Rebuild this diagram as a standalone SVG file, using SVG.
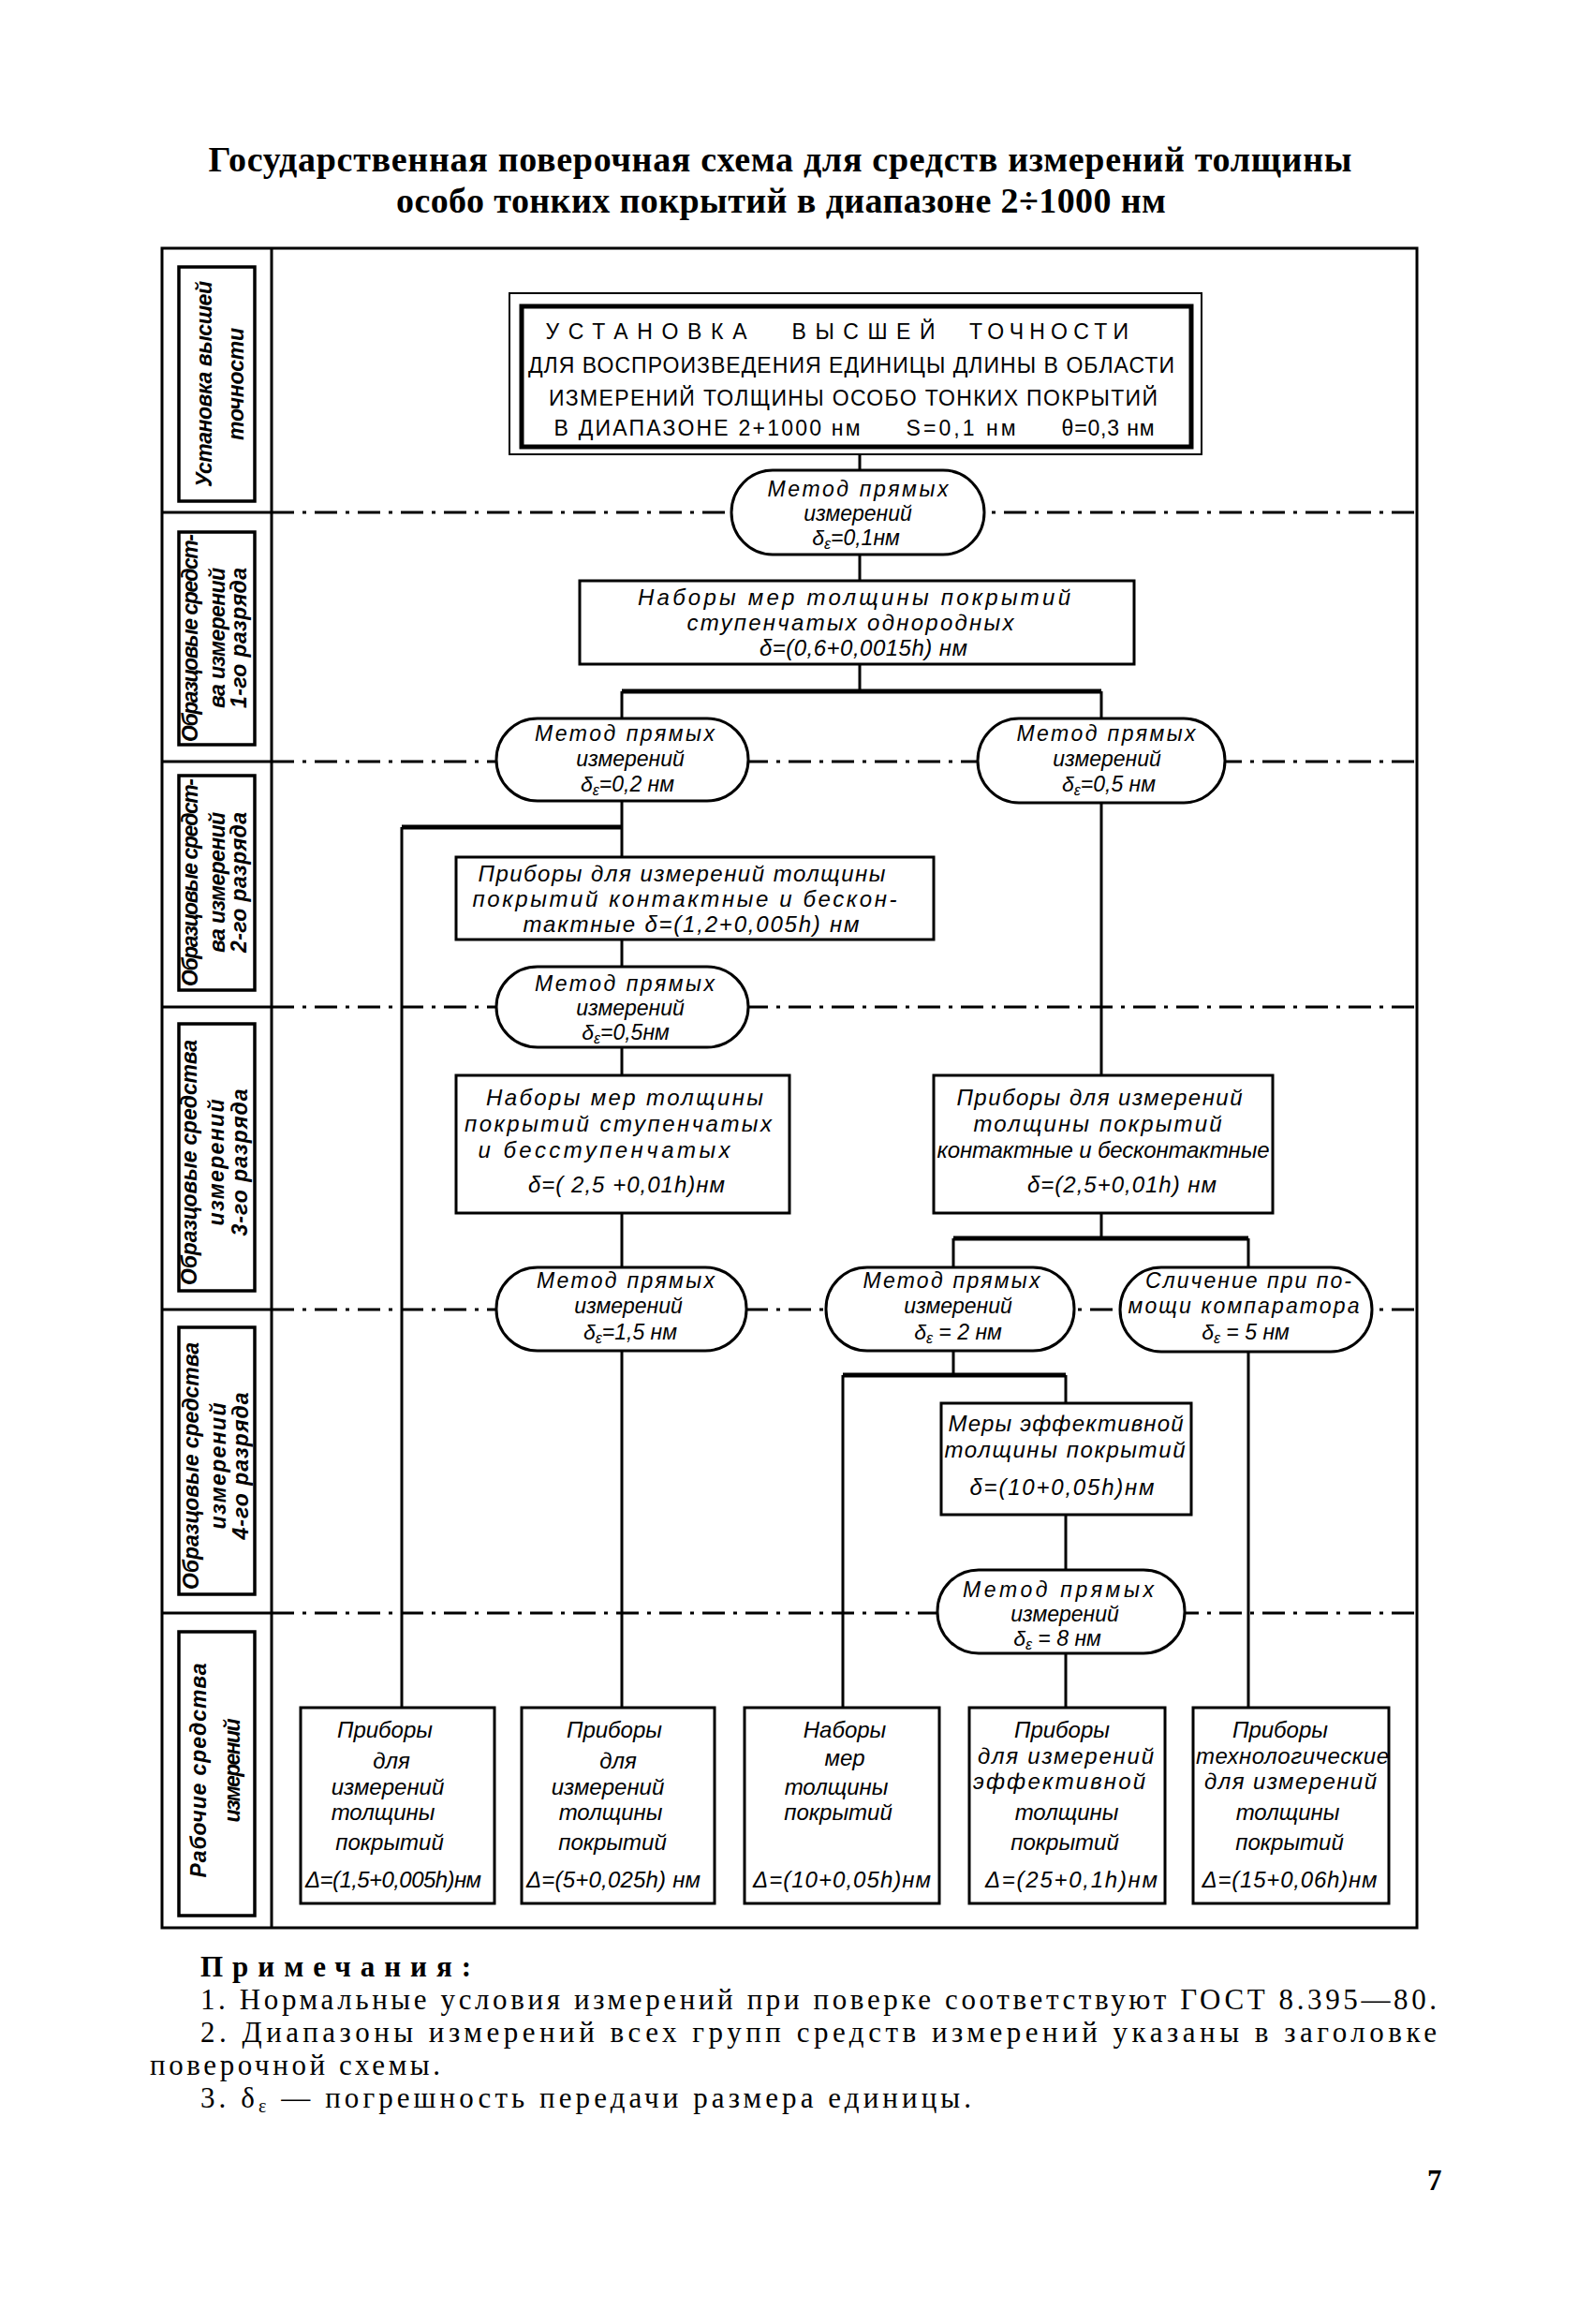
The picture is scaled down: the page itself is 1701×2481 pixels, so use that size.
<svg xmlns="http://www.w3.org/2000/svg" width="1701" height="2481" viewBox="0 0 1701 2481">
<style>
.frame{fill:none;stroke:#000;stroke-width:3}
.box{fill:#fff;stroke:#000;stroke-width:3}
.lab{fill:none;stroke:#000;stroke-width:3.5}
.ell{fill:#fff;stroke:#000;stroke-width:3}
.con{stroke:#000;stroke-width:3;fill:none}
.bar{stroke:#000;stroke-width:5;fill:none}
.dd{stroke:#000;stroke-width:3;stroke-dasharray:24 9 4 9;fill:none}
.t{font-family:"Liberation Sans",Arial,sans-serif;font-style:italic;font-size:24px;text-anchor:middle;fill:#000}
.e{font-family:"Liberation Sans",Arial,sans-serif;font-style:italic;font-size:23px;text-anchor:middle;fill:#000}
.u{font-family:"Liberation Sans",Arial,sans-serif;font-size:23px;text-anchor:middle;fill:#000}
.v{font-family:"Liberation Sans",Arial,sans-serif;font-style:italic;font-weight:bold;font-size:23px;text-anchor:middle;fill:#000}
.title{font-family:"Liberation Serif","Times New Roman",serif;font-weight:bold;font-size:38px;text-anchor:middle;fill:#000}
.note{font-family:"Liberation Serif","Times New Roman",serif;font-size:31px;fill:#000}
.sub{font-size:16px}
</style>
<rect width="1701" height="2481" fill="#fff"/>

<g id="title">
<text class="title" x="833" y="183" textLength="1221" lengthAdjust="spacing">Государственная поверочная схема для средств измерений толщины</text>
<text class="title" x="834" y="227" textLength="822" lengthAdjust="spacing">особо тонких покрытий в диапазоне 2÷1000 нм</text>
</g>

<g id="frame">
<rect class="frame" x="173" y="265" width="1340" height="1793"/>
<line class="frame" x1="290" y1="265" x2="290" y2="2058"/>
<line class="frame" x1="173" y1="547" x2="290" y2="547"/>
<line class="frame" x1="173" y1="813" x2="290" y2="813"/>
<line class="frame" x1="173" y1="1075" x2="290" y2="1075"/>
<line class="frame" x1="173" y1="1398" x2="290" y2="1398"/>
<line class="frame" x1="173" y1="1722" x2="290" y2="1722"/>
<line class="dd" x1="290" y1="547" x2="1513" y2="547"/>
<line class="dd" x1="290" y1="813" x2="1513" y2="813"/>
<line class="dd" x1="290" y1="1075" x2="1513" y2="1075"/>
<line class="dd" x1="290" y1="1398" x2="1513" y2="1398"/>
<line class="dd" x1="290" y1="1722" x2="1513" y2="1722"/>
</g>

<g id="row-labels">
<rect class="lab" x="191" y="285" width="81" height="250"/>
<text class="v" transform="translate(226,410) rotate(-90)" textLength="220" lengthAdjust="spacing">Установка высшей</text>
<text class="v" transform="translate(260,410) rotate(-90)" textLength="120" lengthAdjust="spacing">точности</text>

<rect class="lab" x="191" y="568" width="81" height="227"/>
<text class="v" transform="translate(211,681) rotate(-90)" textLength="222" lengthAdjust="spacing">Образцовые средст-</text>
<text class="v" transform="translate(240,681) rotate(-90)" textLength="150" lengthAdjust="spacing">ва измерений</text>
<text class="v" transform="translate(263,681) rotate(-90)" textLength="150" lengthAdjust="spacing">1-го разряда</text>

<rect class="lab" x="191" y="828" width="81" height="229"/>
<text class="v" transform="translate(211,942) rotate(-90)" textLength="222" lengthAdjust="spacing">Образцовые средст-</text>
<text class="v" transform="translate(240,942) rotate(-90)" textLength="150" lengthAdjust="spacing">ва измерений</text>
<text class="v" transform="translate(263,942) rotate(-90)" textLength="150" lengthAdjust="spacing">2-го разряда</text>

<rect class="lab" x="191" y="1093" width="81" height="285"/>
<text class="v" transform="translate(210,1241) rotate(-90)" textLength="262" lengthAdjust="spacing">Образцовые средства</text>
<text class="v" transform="translate(239,1241) rotate(-90)" textLength="135" lengthAdjust="spacing">измерений</text>
<text class="v" transform="translate(264,1241) rotate(-90)" textLength="157" lengthAdjust="spacing">3-го разряда</text>

<rect class="lab" x="191" y="1417" width="81" height="285"/>
<text class="v" transform="translate(212,1565) rotate(-90)" textLength="264" lengthAdjust="spacing">Образцовые средства</text>
<text class="v" transform="translate(241,1565) rotate(-90)" textLength="135" lengthAdjust="spacing">измерений</text>
<text class="v" transform="translate(265,1565) rotate(-90)" textLength="157" lengthAdjust="spacing">4-го разряда</text>

<rect class="lab" x="191" y="1742" width="81" height="303"/>
<text class="v" transform="translate(220,1890) rotate(-90)" textLength="229" lengthAdjust="spacing">Рабочие средства</text>
<text class="v" transform="translate(256,1890) rotate(-90)" textLength="111" lengthAdjust="spacing">измерений</text>
</g>

<g id="connectors">
<line class="con" x1="918" y1="485" x2="918" y2="502"/>
<line class="con" x1="918" y1="592" x2="918" y2="620"/>
<line class="con" x1="918" y1="709" x2="918" y2="738"/>
<line class="bar" x1="664" y1="738" x2="1176" y2="738"/>
<line class="con" x1="664" y1="738" x2="664" y2="767"/>
<line class="con" x1="1176" y1="738" x2="1176" y2="767"/>
<line class="con" x1="664" y1="855" x2="664" y2="915"/>
<line class="bar" x1="429" y1="883" x2="664" y2="883"/>
<line class="con" x1="429" y1="883" x2="429" y2="1823"/>
<line class="con" x1="664" y1="1003" x2="664" y2="1032"/>
<line class="con" x1="664" y1="1118" x2="664" y2="1148"/>
<line class="con" x1="1176" y1="857" x2="1176" y2="1148"/>
<line class="con" x1="664" y1="1295" x2="664" y2="1353"/>
<line class="con" x1="1176" y1="1295" x2="1176" y2="1322"/>
<line class="bar" x1="1018" y1="1322" x2="1333" y2="1322"/>
<line class="con" x1="1018" y1="1322" x2="1018" y2="1353"/>
<line class="con" x1="1333" y1="1322" x2="1333" y2="1353"/>
<line class="con" x1="664" y1="1442" x2="664" y2="1823"/>
<line class="con" x1="1018" y1="1442" x2="1018" y2="1468"/>
<line class="bar" x1="900" y1="1468" x2="1138" y2="1468"/>
<line class="con" x1="900" y1="1468" x2="900" y2="1823"/>
<line class="con" x1="1138" y1="1468" x2="1138" y2="1498"/>
<line class="con" x1="1138" y1="1617" x2="1138" y2="1676"/>
<line class="con" x1="1138" y1="1765" x2="1138" y2="1823"/>
<line class="con" x1="1333" y1="1443" x2="1333" y2="1823"/>
</g>

<g id="top-standard">
<rect x="544" y="313" width="739" height="172" fill="#fff" stroke="#000" stroke-width="2"/>
<rect x="557" y="327" width="715" height="150" fill="none" stroke="#000" stroke-width="5"/>
<text class="u" x="690" y="362" font-size="24" textLength="215" lengthAdjust="spacing">УСТАНОВКА</text>
<text class="u" x="922" y="362" font-size="24" textLength="153" lengthAdjust="spacing">ВЫСШЕЙ</text>
<text class="u" x="1120" y="362" font-size="24" textLength="170" lengthAdjust="spacing">ТОЧНОСТИ</text>
<text class="u" x="909" y="398" textLength="690" lengthAdjust="spacing">ДЛЯ ВОСПРОИЗВЕДЕНИЯ ЕДИНИЦЫ ДЛИНЫ В ОБЛАСТИ</text>
<text class="u" x="911" y="433" textLength="650" lengthAdjust="spacing">ИЗМЕРЕНИЙ ТОЛЩИНЫ ОСОБО ТОНКИХ ПОКРЫТИЙ</text>
<text class="u" x="755" y="465" textLength="327" lengthAdjust="spacing">В ДИАПАЗОНЕ 2+1000 нм</text>
<text class="u" x="1026" y="465" textLength="117" lengthAdjust="spacing">S=0,1 нм</text>
<text class="u" x="1183" y="465" textLength="99" lengthAdjust="spacing">θ=0,3 нм</text>
</g>

<g id="m1">
<rect class="ell" x="781" y="502" width="270" height="90" rx="44" ry="45"/>
<text class="e" x="916" y="530" textLength="193" lengthAdjust="spacing">Метод прямых</text>
<text class="e" x="916" y="556">измерений</text>
<text class="e" x="914" y="582">δ<tspan class="sub" dy="4">ε</tspan><tspan dy="-4">=0,1нм</tspan></text>
</g>

<g id="b1">
<rect class="box" x="619" y="620" width="592" height="89"/>
<text class="t" x="912" y="646" textLength="462" lengthAdjust="spacing">Наборы мер толщины покрытий</text>
<text class="t" x="908" y="673" textLength="349" lengthAdjust="spacing">ступенчатых однородных</text>
<text class="t" x="922" y="700" textLength="222" lengthAdjust="spacing">δ=(0,6+0,0015h) нм</text>
</g>

<g id="m2">
<rect class="ell" x="530" y="767" width="269" height="88" rx="44" ry="44"/>
<text class="e" x="667" y="791" textLength="192" lengthAdjust="spacing">Метод прямых</text>
<text class="e" x="673" y="818">измерений</text>
<text class="e" x="670" y="845">δ<tspan class="sub" dy="4">ε</tspan><tspan dy="-4">=0,2 нм</tspan></text>
</g>

<g id="m3">
<rect class="ell" x="1044" y="767" width="264" height="90" rx="44" ry="45"/>
<text class="e" x="1181" y="791" textLength="191" lengthAdjust="spacing">Метод прямых</text>
<text class="e" x="1182" y="818">измерений</text>
<text class="e" x="1184" y="845">δ<tspan class="sub" dy="4">ε</tspan><tspan dy="-4">=0,5 нм</tspan></text>
</g>

<g id="b2">
<rect class="box" x="487" y="915" width="510" height="88"/>
<text class="t" x="728" y="941" textLength="435" lengthAdjust="spacing">Приборы для измерений толщины</text>
<text class="t" x="731" y="968" textLength="453" lengthAdjust="spacing">покрытий контактные и бескон-</text>
<text class="t" x="738" y="995" textLength="359" lengthAdjust="spacing">тактные  δ=(1,2+0,005h) нм</text>
</g>

<g id="m4">
<rect class="ell" x="530" y="1032" width="269" height="86" rx="44" ry="43"/>
<text class="e" x="667" y="1058" textLength="192" lengthAdjust="spacing">Метод прямых</text>
<text class="e" x="673" y="1084">измерений</text>
<text class="e" x="668" y="1110">δ<tspan class="sub" dy="4">ε</tspan><tspan dy="-4">=0,5нм</tspan></text>
</g>

<g id="b3">
<rect class="box" x="487" y="1148" width="356" height="147"/>
<text class="t" x="667" y="1180" textLength="296" lengthAdjust="spacing">Наборы мер толщины</text>
<text class="t" x="660" y="1208" textLength="328" lengthAdjust="spacing">покрытий ступенчатых</text>
<text class="t" x="645" y="1236" textLength="269" lengthAdjust="spacing">и бесступенчатых</text>
<text class="t" x="669" y="1273" textLength="210" lengthAdjust="spacing">δ=( 2,5 +0,01h)нм</text>
</g>

<g id="b4">
<rect class="box" x="997" y="1148" width="362" height="147"/>
<text class="t" x="1174" y="1180" textLength="305" lengthAdjust="spacing">Приборы для измерений</text>
<text class="t" x="1172" y="1208" textLength="265" lengthAdjust="spacing">толщины покрытий</text>
<text class="t" x="1178" y="1236" textLength="355" lengthAdjust="spacing">контактные и бесконтактные</text>
<text class="t" x="1198" y="1273" textLength="202" lengthAdjust="spacing">δ=(2,5+0,01h) нм</text>
</g>

<g id="m5">
<rect class="ell" x="530" y="1353" width="267" height="89" rx="44" ry="44"/>
<text class="e" x="668" y="1375" textLength="190" lengthAdjust="spacing">Метод прямых</text>
<text class="e" x="671" y="1402">измерений</text>
<text class="e" x="673" y="1430">δ<tspan class="sub" dy="4">ε</tspan><tspan dy="-4">=1,5 нм</tspan></text>
</g>

<g id="m6">
<rect class="ell" x="882" y="1353" width="265" height="89" rx="44" ry="44"/>
<text class="e" x="1016" y="1375" textLength="189" lengthAdjust="spacing">Метод прямых</text>
<text class="e" x="1023" y="1402">измерений</text>
<text class="e" x="1023" y="1430">δ<tspan class="sub" dy="4">ε</tspan><tspan dy="-4"> = 2 нм</tspan></text>
</g>

<g id="m7">
<rect class="ell" x="1196" y="1353" width="269" height="90" rx="44" ry="45"/>
<text class="e" x="1333" y="1375" textLength="220" lengthAdjust="spacing">Сличение при по-</text>
<text class="e" x="1328" y="1402" textLength="247" lengthAdjust="spacing">мощи компаратора</text>
<text class="e" x="1330" y="1430">δ<tspan class="sub" dy="4">ε</tspan><tspan dy="-4"> = 5 нм</tspan></text>
</g>

<g id="b5">
<rect class="box" x="1005" y="1498" width="267" height="119"/>
<text class="t" x="1138" y="1528" textLength="251" lengthAdjust="spacing">Меры эффективной</text>
<text class="t" x="1137" y="1556" textLength="257" lengthAdjust="spacing">толщины покрытий</text>
<text class="t" x="1134" y="1596" textLength="197" lengthAdjust="spacing">δ=(10+0,05h)нм</text>
</g>

<g id="m8">
<rect class="ell" x="1001" y="1676" width="264" height="89" rx="44" ry="44"/>
<text class="e" x="1130" y="1705" textLength="204" lengthAdjust="spacing">Метод прямых</text>
<text class="e" x="1137" y="1731">измерений</text>
<text class="e" x="1129" y="1757">δ<tspan class="sub" dy="4">ε</tspan><tspan dy="-4"> = 8 нм</tspan></text>
</g>

<g id="w1">
<rect class="box" x="321" y="1823" width="207" height="209"/>
<text class="t" x="411" y="1855">Приборы</text>
<text class="t" x="418" y="1888">для</text>
<text class="t" x="414" y="1916">измерений</text>
<text class="t" x="409" y="1943">толщины</text>
<text class="t" x="416" y="1975">покрытий</text>
<text class="t" x="420" y="2015" textLength="188" lengthAdjust="spacing">Δ=(1,5+0,005h)нм</text>
</g>

<g id="w2">
<rect class="box" x="557" y="1823" width="206" height="209"/>
<text class="t" x="656" y="1855">Приборы</text>
<text class="t" x="660" y="1888">для</text>
<text class="t" x="649" y="1916">измерений</text>
<text class="t" x="652" y="1943">толщины</text>
<text class="t" x="654" y="1975">покрытий</text>
<text class="t" x="655" y="2015" textLength="186" lengthAdjust="spacing">Δ=(5+0,025h) нм</text>
</g>

<g id="w3">
<rect class="box" x="795" y="1823" width="208" height="209"/>
<text class="t" x="902" y="1855">Наборы</text>
<text class="t" x="902" y="1885">мер</text>
<text class="t" x="893" y="1916">толщины</text>
<text class="t" x="895" y="1943">покрытий</text>
<text class="t" x="899" y="2015" textLength="190" lengthAdjust="spacing">Δ=(10+0,05h)нм</text>
</g>

<g id="w4">
<rect class="box" x="1035" y="1823" width="209" height="209"/>
<text class="t" x="1134" y="1855">Приборы</text>
<text class="t" x="1138" y="1883" textLength="188" lengthAdjust="spacing">для измерений</text>
<text class="t" x="1131" y="1910" textLength="184" lengthAdjust="spacing">эффективной</text>
<text class="t" x="1139" y="1943">толщины</text>
<text class="t" x="1137" y="1975">покрытий</text>
<text class="t" x="1144" y="2015" textLength="184" lengthAdjust="spacing">Δ=(25+0,1h)нм</text>
</g>

<g id="w5">
<rect class="box" x="1274" y="1823" width="209" height="209"/>
<text class="t" x="1367" y="1855">Приборы</text>
<text class="t" x="1380" y="1883" textLength="206" lengthAdjust="spacing">технологические</text>
<text class="t" x="1378" y="1910" textLength="184" lengthAdjust="spacing">для измерений</text>
<text class="t" x="1375" y="1943">толщины</text>
<text class="t" x="1377" y="1975">покрытий</text>
<text class="t" x="1377" y="2015" textLength="187" lengthAdjust="spacing">Δ=(15+0,06h)нм</text>
</g>

<g id="notes">
<text class="note" x="214" y="2110" font-weight="bold" font-size="33" textLength="289" lengthAdjust="spacing">Примечания:</text>
<text class="note" x="214" y="2145" textLength="1320" lengthAdjust="spacing">1. Нормальные условия измерений при поверке соответствуют ГОСТ 8.395—80.</text>
<text class="note" x="214" y="2180" textLength="1320" lengthAdjust="spacing">2. Диапазоны измерений всех групп средств измерений указаны в заголовке</text>
<text class="note" x="160" y="2215" textLength="310" lengthAdjust="spacing">поверочной схемы.</text>
<text class="note" x="214" y="2250" textLength="823" lengthAdjust="spacing">3. δ<tspan font-size="20" dy="5">ε</tspan><tspan dy="-5"> — погрешность передачи размера единицы.</tspan></text>
<text class="note" x="1524" y="2338" font-weight="bold" font-size="40">7</text>
</g>
</svg>
